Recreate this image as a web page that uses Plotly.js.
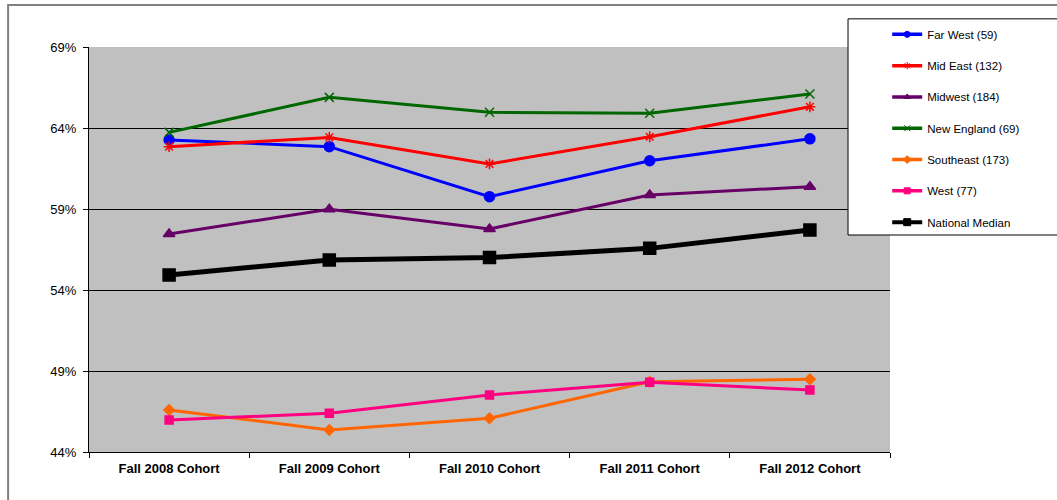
<!DOCTYPE html>
<html>
<head>
<meta charset="utf-8">
<script src="https://cdn.plot.ly/plotly-3.0.1.min.js"></script>
<style>html,body{margin:0;padding:0;background:#fff;}#chart{width:1057px;height:500px;}</style>
</head>
<body>
<div id="chart"></div>
<script>
const cohorts = ["Fall 2008 Cohort", "Fall 2009 Cohort", "Fall 2010 Cohort", "Fall 2011 Cohort", "Fall 2012 Cohort"];
const farWest = [63.26, 62.85, 59.76, 61.98, 63.33];
const midEast = [62.85, 63.42, 61.78, 63.46, 65.31];
const midwest = [57.46, 58.98, 57.77, 59.86, 60.38];
const newEngland = [63.73, 65.89, 64.97, 64.91, 66.1];
const southeast = [46.59, 45.36, 46.08, 48.34, 48.49];
const west = [45.98, 46.39, 47.52, 48.3, 47.83];
const nationalMedian = [54.93, 55.85, 56.0, 56.57, 57.7];
const seriesNames = ["Far West (59)", "Mid East (132)", "Midwest (184)", "New England (69)", "Southeast (173)", "West (77)", "National Median"];
const yTicks = [44, 49, 54, 59, 64, 69];
const yTickLabels = ["44%", "49%", "54%", "59%", "64%", "69%"];

const styles = [
  {color: "#0000FF", symbol: "circle", size: 10, width: 3},
  {color: "#FF0000", symbol: "asterisk-open", size: 9, width: 3},
  {color: "#660066", symbol: "triangle-up", size: 10, width: 3},
  {color: "#006600", symbol: "x-thin-open", size: 9, width: 3},
  {color: "#FF6600", symbol: "diamond", size: 8, width: 3},
  {color: "#FF0080", symbol: "square", size: 8, width: 3},
  {color: "#000000", symbol: "square", size: 12, width: 5}
];
const values = [farWest, midEast, midwest, newEngland, southeast, west, nationalMedian];

const data = [];
values.forEach((v, i) => {
  const s = styles[i];
  data.push({
    type: "scatter", mode: "lines+markers", name: seriesNames[i], x: cohorts, y: v,
    showlegend: false,
    line: {color: s.color, width: s.width},
    marker: {color: s.color, symbol: s.symbol, size: s.size, line: {color: s.color, width: 1.5}},
    hoverinfo: "skip"
  });
});
// legend entries (small symbols as in the reference)
values.forEach((v, i) => {
  const s = styles[i];
  data.push({
    type: "scatter", mode: "lines+markers", name: seriesNames[i], x: [null], y: [null],
    legendgroup: "g" + i, showlegend: true,
    line: {color: s.color, width: i === 6 ? 4 : 3.5},
    marker: {color: s.color, symbol: s.symbol, size: i === 6 ? 7 : 6, line: {color: s.color, width: 1}},
    hoverinfo: "skip"
  });
});

const layout = {
  width: 1057, height: 500,
  margin: {l: 89, r: 167, t: 47, b: 48},
  paper_bgcolor: "#FFFFFF", plot_bgcolor: "#C0C0C0",
  font: {family: "Liberation Sans, Arial, sans-serif", size: 13, color: "#000"},
  showlegend: true,
  legend: {x: 0.9965, y: 1.067, xanchor: "left", yanchor: "top", bgcolor: "rgba(0,0,0,0)",
           borderwidth: 0, tracegroupgap: 12.3, font: {size: 11.5, color: "#000"}},
  xaxis: {type: "category", range: [-0.5, 4.5], showgrid: false, showline: true, linecolor: "#000", linewidth: 1,
          ticks: "outside", tickson: "boundaries", ticklen: 5, tickcolor: "#000",
          ticklabelstandoff: 4,
          tickfont: {size: 13, weight: "bold"}, fixedrange: true, zeroline: false},
  yaxis: {range: [44, 69], tickvals: yTicks, ticktext: yTickLabels, showgrid: true,
          gridcolor: "#000", gridwidth: 1, showline: true, linecolor: "#000", linewidth: 1,
          ticks: "outside", ticklen: 5, tickcolor: "#000", zeroline: false, fixedrange: true,
          ticklabelstandoff: 4, tickfont: {size: 13}},
  shapes: [
    {type: "rect", xref: "paper", yref: "paper", x0: -0.101, x1: 1.3, y0: -0.3, y1: 1.104,
     line: {color: "#808080", width: 2}, fillcolor: "rgba(0,0,0,0)", layer: "below"},
    {type: "rect", xref: "paper", yref: "paper", x0: 0.9476, x1: 1.3, y0: 0.5358, y1: 1.0695,
     line: {color: "#000", width: 1}, fillcolor: "#FFFFFF", layer: "above"}
  ]
};
Plotly.newPlot("chart", data, layout, {displayModeBar: false, staticPlot: true});
</script>
</body>
</html>
